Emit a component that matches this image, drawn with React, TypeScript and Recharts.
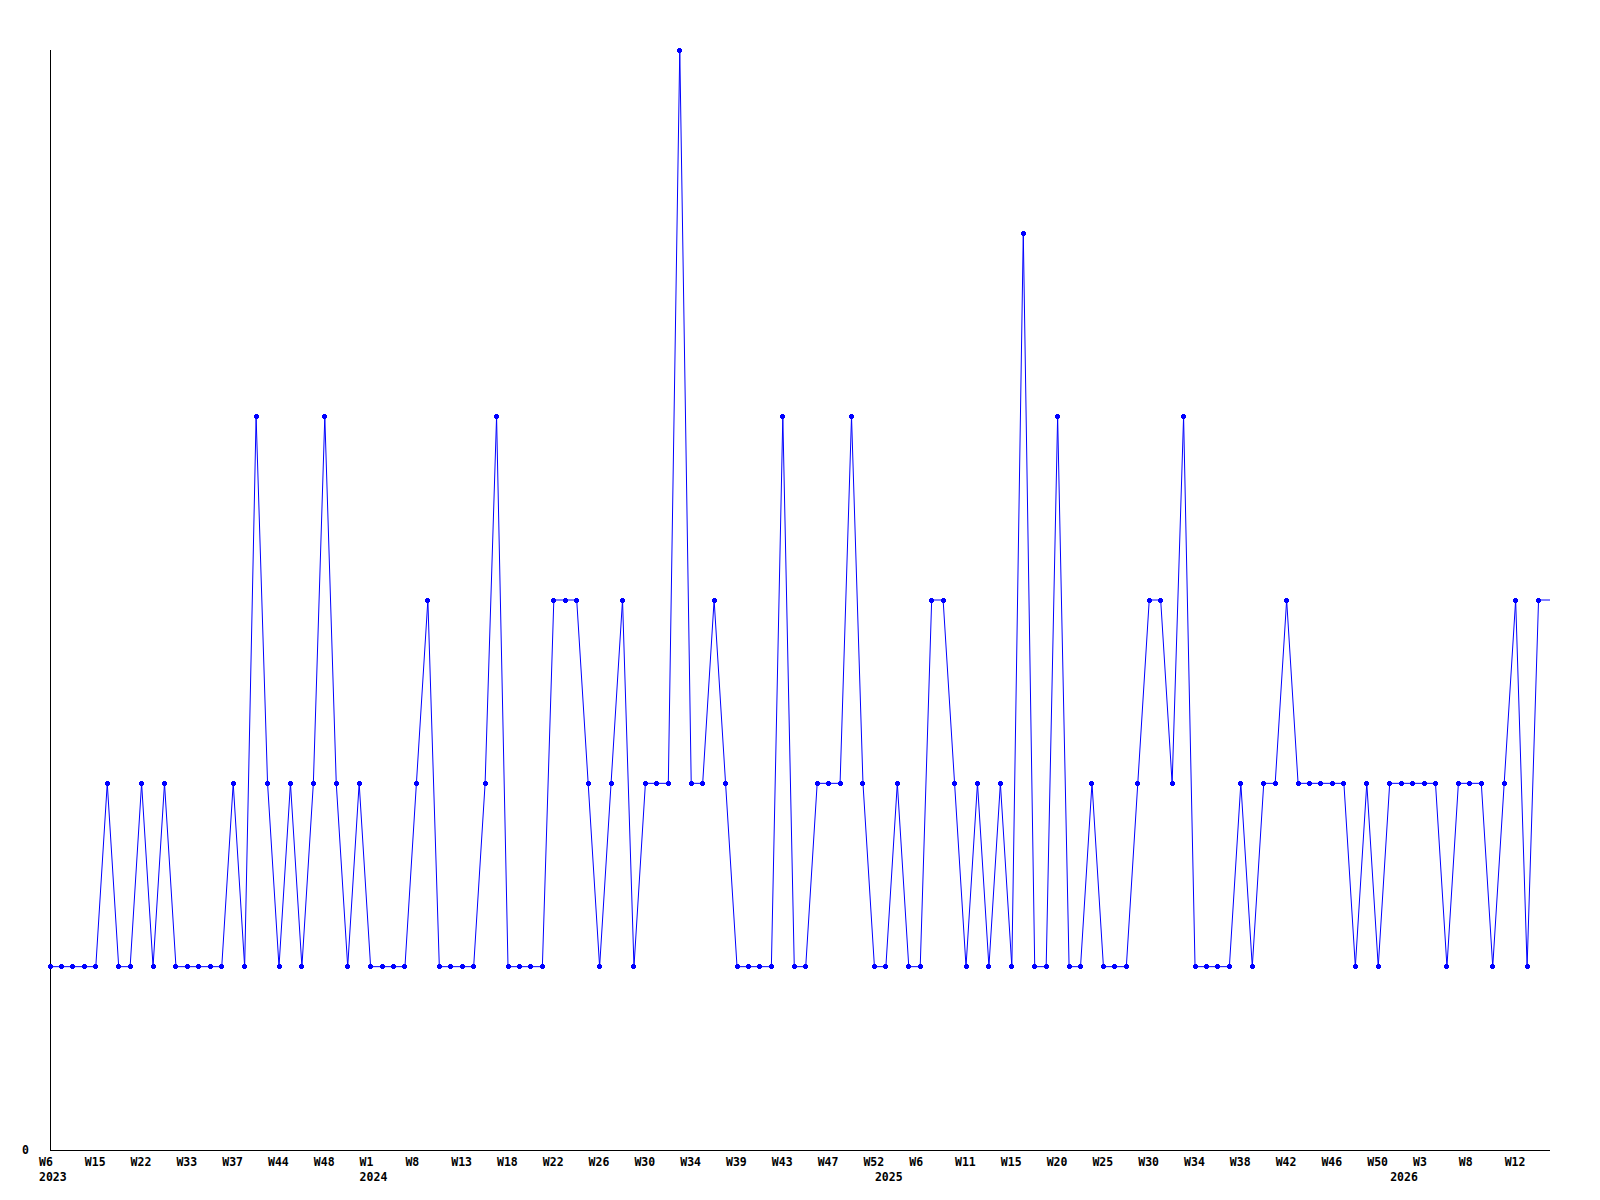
import { LineChart, Line, XAxis, YAxis } from 'recharts';

// one entry per plotted week (weeks without activity are missing from the source)
const weeks = [
  '2023-W6', '2023-W8', '2023-W10', '2023-W13', '2023-W15', '2023-W17', '2023-W19', '2023-W20',
  '2023-W22', '2023-W25', '2023-W28', '2023-W31', '2023-W33', '2023-W34', '2023-W35', '2023-W36',
  '2023-W37', '2023-W39', '2023-W40', '2023-W42', '2023-W44', '2023-W45', '2023-W46', '2023-W47',
  '2023-W48', '2023-W49', '2023-W50', '2023-W52', '2024-W1', '2024-W3', '2024-W5', '2024-W6',
  '2024-W8', '2024-W9', '2024-W11', '2024-W12', '2024-W13', '2024-W14', '2024-W15', '2024-W17',
  '2024-W18', '2024-W19', '2024-W20', '2024-W21', '2024-W22', '2024-W23', '2024-W24', '2024-W25',
  '2024-W26', '2024-W27', '2024-W28', '2024-W29', '2024-W30', '2024-W31', '2024-W32', '2024-W33',
  '2024-W34', '2024-W35', '2024-W36', '2024-W38', '2024-W39', '2024-W40', '2024-W41', '2024-W42',
  '2024-W43', '2024-W44', '2024-W45', '2024-W46', '2024-W47', '2024-W48', '2024-W49', '2024-W51',
  '2024-W52', '2025-W1', '2025-W3', '2025-W4', '2025-W6', '2025-W7', '2025-W8', '2025-W10',
  '2025-W11', '2025-W12', '2025-W13', '2025-W14', '2025-W15', '2025-W16', '2025-W17', '2025-W19',
  '2025-W20', '2025-W21', '2025-W22', '2025-W24', '2025-W25', '2025-W26', '2025-W27', '2025-W29',
  '2025-W30', '2025-W31', '2025-W32', '2025-W33', '2025-W34', '2025-W35', '2025-W36', '2025-W37',
  '2025-W38', '2025-W39', '2025-W40', '2025-W41', '2025-W42', '2025-W43', '2025-W44', '2025-W45',
  '2025-W46', '2025-W47', '2025-W48', '2025-W49', '2025-W50', '2025-W52', '2026-W1', '2026-W2',
  '2026-W3', '2026-W4', '2026-W6', '2026-W7', '2026-W8', '2026-W9', '2026-W10', '2026-W11',
  '2026-W12', '2026-W13', '2026-W14', '2026-W15',
];

const counts = [
  1, 1, 1, 1, 1, 2, 1, 1, 2, 1,
  2, 1, 1, 1, 1, 1, 2, 1, 4, 2,
  1, 2, 1, 2, 4, 2, 1, 2, 1, 1,
  1, 1, 2, 3, 1, 1, 1, 1, 2, 4,
  1, 1, 1, 1, 3, 3, 3, 2, 1, 2,
  3, 1, 2, 2, 2, 6, 2, 2, 3, 2,
  1, 1, 1, 1, 4, 1, 1, 2, 2, 2,
  4, 2, 1, 1, 2, 1, 1, 3, 3, 2,
  1, 2, 1, 2, 1, 5, 1, 1, 4, 1,
  1, 2, 1, 1, 1, 2, 3, 3, 2, 4,
  1, 1, 1, 1, 2, 1, 2, 2, 3, 2,
  2, 2, 2, 2, 1, 2, 1, 2, 2, 2,
  2, 2, 1, 2, 2, 2, 1, 2, 3, 1,
  3, 3,
];

const yearStarts = ['2023-W6', '2024-W1', '2025-W1', '2026-W1'];
const yTicks = [0];

const data = weeks.map((key, i) => ({ key, count: counts[i] }));

const FONT = '"DejaVu Sans Mono", monospace';

function WeekTick(props: any) {
  const { x, y, payload } = props;
  return (
    <text x={x - 11} y={y + 8} textAnchor="start" fontFamily={FONT} fontWeight="bold" fontSize={11.5} fill="#000">
      {payload.value.split('-')[1]}
    </text>
  );
}

function YearTick(props: any) {
  const { x, y, payload } = props;
  return (
    <text x={x - 11} y={y - 2} textAnchor="start" fontFamily={FONT} fontWeight="bold" fontSize={11.5} fill="#000">
      {payload.value.split('-')[0]}
    </text>
  );
}

function ValueTick(props: any) {
  const { x, y, payload } = props;
  return (
    <text x={x - 13} y={y + 4} textAnchor="end" fontFamily={FONT} fontWeight="bold" fontSize={11.5} fill="#000">
      {payload.value}
    </text>
  );
}

function Marker(props: any) {
  const { cx, cy, index } = props;
  if (index === counts.length - 1) return <g key={index} />;
  return (
    <g key={index} fill="#0000ff" shapeRendering="crispEdges">
      <rect x={cx - 1.5} y={cy - 2.5} width={3} height={5} />
      <rect x={cx - 2.5} y={cy - 1.5} width={5} height={3} />
    </g>
  );
}

export default function App() {
  return (
    <div style={{ position: 'absolute', left: 0, top: 0, width: 1600, height: 1200, background: '#fff' }}>
      <LineChart width={1600} height={1200} data={data} margin={{ top: 50, right: 50, bottom: 0, left: 0 }}>
        <XAxis
          xAxisId="week"
          dataKey="key"
          interval={3}
          tickLine={false}
          axisLine={{ stroke: '#000', strokeWidth: 1, shapeRendering: 'crispEdges' }}
          tick={<WeekTick />}
          height={25}
        />
        <XAxis
          xAxisId="year"
          dataKey="key"
          ticks={yearStarts}
          interval={0}
          tickLine={false}
          axisLine={false}
          tick={<YearTick />}
          height={25}
        />
        <YAxis
          domain={[0, 6]}
          ticks={yTicks}
          width={50}
          tickLine={false}
          axisLine={{ stroke: '#000', strokeWidth: 1, shapeRendering: 'crispEdges' }}
          tick={<ValueTick />}
        />
        <Line
          xAxisId="week"
          type="linear"
          dataKey="count"
          stroke="#0000ff"
          strokeWidth={1}
          dot={<Marker />}
          activeDot={false}
          isAnimationActive={false}
        />
        <Line
          xAxisId="year"
          type="linear"
          dataKey="count"
          stroke="none"
          dot={false}
          activeDot={false}
          isAnimationActive={false}
        />
      </LineChart>
    </div>
  );
}
